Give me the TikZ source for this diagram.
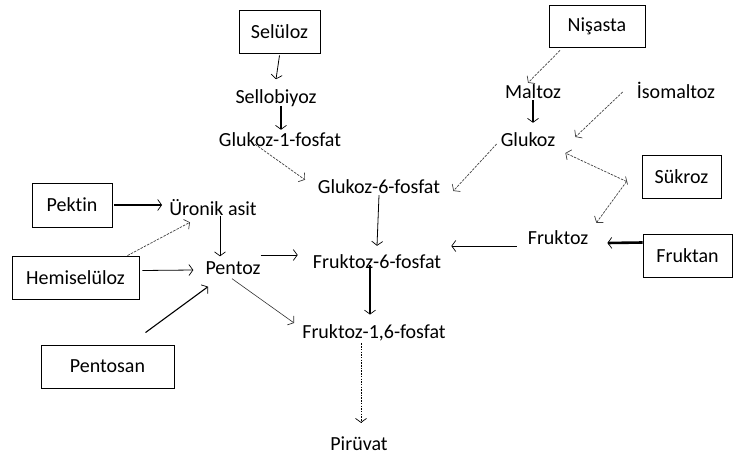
\documentclass[tikz,border=0pt]{standalone}
\usepackage{fontspec}
\setmainfont[Ligatures={NoCommon}]{Carlito}
\usetikzlibrary{arrows.meta}
\begin{document}
\begin{tikzpicture}[x=1pt,y=-1pt,
  every node/.style={font=\fontsize{20}{22}\selectfont, inner sep=2pt, text=black},
  boxn/.style={draw, line width=0.9pt, minimum height=43pt, inner sep=0pt},
  tip/.style={-{Straight Barb[length=4pt,width=11pt,line width=0.7pt]}},
  thinarr/.style={tip, line width=0.8pt},
  thickarr/.style={tip, line width=2.6pt},
  midarr/.style={tip, line width=1.8pt},
  dasharr/.style={tip, line width=0.7pt, black!75, dash pattern=on 2.5pt off 1.2pt},
  dotarr/.style={tip, line width=0.8pt, dash pattern=on 1.5pt off 1.2pt}]
\useasboundingbox (0,0) rectangle (733,460);
% boxes
\node[boxn, minimum width=81pt] (selu) at (279.5,31.5) {Selüloz};
\node[boxn, minimum width=96pt, minimum height=42pt] (nis) at (597,26) {Nişasta};
\node[boxn, minimum width=80pt, minimum height=44pt] (pektin) at (72,205) {Pektin};
\node[boxn, minimum width=127pt] (hemi) at (75.5,277.5) {Hemiselüloz};
\node[boxn, minimum width=133pt] (pentosan) at (107.5,366.5) {Pentosan};
\node[boxn, minimum width=79pt] (sukroz) at (681.5,176.5) {Sükroz};
\node[boxn, minimum width=89pt] (fruktan) at (687.5,255.5) {Fruktan};
% texts
\node (sello) at (276,98) {Sellobiyoz};
\node (g1p) at (280,140) {Glukoz-1-fosfat};
\node (g6p) at (379,187) {Glukoz-6-fosfat};
\node (maltoz) at (533,92) {Maltoz};
\node (iso) at (676,90) {İsomaltoz};
\node (glukoz) at (528,140) {Glukoz};
\node (uronik) at (213,208) {Üronik asit};
\node (pentoz) at (233,268) {Pentoz};
\node (f6p) at (377,262) {Fruktoz-6-fosfat};
\node (fruktoz) at (558,238) {Fruktoz};
\node (f16p) at (374,333) {Fruktoz-1,6-fosfat};
\node (piruvat) at (359,444) {Pirüvat};
% connectors
\draw[thinarr] ([yshift=-2pt]selu.south) -- ([yshift=8pt]sello.north);
\draw[thickarr] ([xshift=5pt,yshift=3pt]sello.south) -- ([xshift=1pt,yshift=1pt]g1p.north);
\draw[dasharr] ([xshift=-25pt,yshift=5pt]g1p.south) -- ([xshift=-74pt,yshift=-2pt]g6p.north);
\draw[dasharr] ([xshift=-37pt,yshift=-3pt]nis.south) -- ([xshift=-5pt,yshift=0pt]maltoz.north);
\draw[thickarr] ([yshift=1pt]maltoz.south) -- ([xshift=5pt,yshift=8pt]glukoz.north);
\draw[dasharr] ([xshift=-12pt,yshift=-2pt]iso.west) -- ([xshift=18pt,yshift=3pt]glukoz.east);
\draw[dasharr] ([xshift=-2pt,yshift=-4pt]glukoz.west) -- ([xshift=11pt,yshift=-4pt]g6p.east);
\coordinate (sk) at ([xshift=-15pt,yshift=-5pt]sukroz.west);
\draw[dasharr] (sk) -- ([xshift=8pt,yshift=-13pt]glukoz.east);
\draw[dasharr] (sk) -- ([xshift=6pt,yshift=6pt]fruktoz.north east);
\draw[line width=0.7pt, black!75] ([xshift=-1pt,yshift=5pt]sk) -- ([xshift=1pt,yshift=-3pt]sk);
\draw[thickarr] ([yshift=13pt]fruktan.west) -- ([xshift=17pt,yshift=-5pt]fruktoz.east);
\draw[thinarr] ([xshift=-9pt,yshift=-8pt]fruktoz.west) -- ([xshift=8pt,yshift=16pt]f6p.east);
\draw[thinarr] ([yshift=1pt]g6p.south) -- ([yshift=7pt]f6p.north);
\draw[thickarr] ([xshift=-7pt,yshift=6pt]f6p.south) -- ([xshift=-4pt,yshift=8pt]f16p.north);
\draw[dotarr] ([xshift=-13pt]f16p.south) -- ([xshift=2pt,yshift=12pt]piruvat.north);
\draw[midarr] ([xshift=2pt]pektin.east) -- ([xshift=-5pt,yshift=3pt]uronik.west);
\draw[dasharr] ([xshift=52pt]hemi.north) -- ([xshift=-23pt,yshift=-4pt]uronik.south);
\draw[thinarr] ([xshift=3pt,yshift=7pt]hemi.east) -- ([xshift=-10pt,yshift=-2pt]pentoz.west);
\draw[tip, line width=1.1pt] ([xshift=38pt,yshift=12pt]pentosan.north) -- ([xshift=-25pt,yshift=-10pt]pentoz.south);
\draw[thinarr] ([xshift=7pt,yshift=2pt]uronik.south) -- ([xshift=-13pt,yshift=3pt]pentoz.north);
\draw[thinarr] ([xshift=-2pt,yshift=13pt]pentoz.east) -- ([xshift=-13pt,yshift=7pt]f6p.west);
\draw[tip, line width=0.6pt, black!80] ([xshift=-1pt,yshift=-2pt]pentoz.south) -- ([xshift=-6pt,yshift=10pt]f16p.west);
\end{tikzpicture}
\end{document}
